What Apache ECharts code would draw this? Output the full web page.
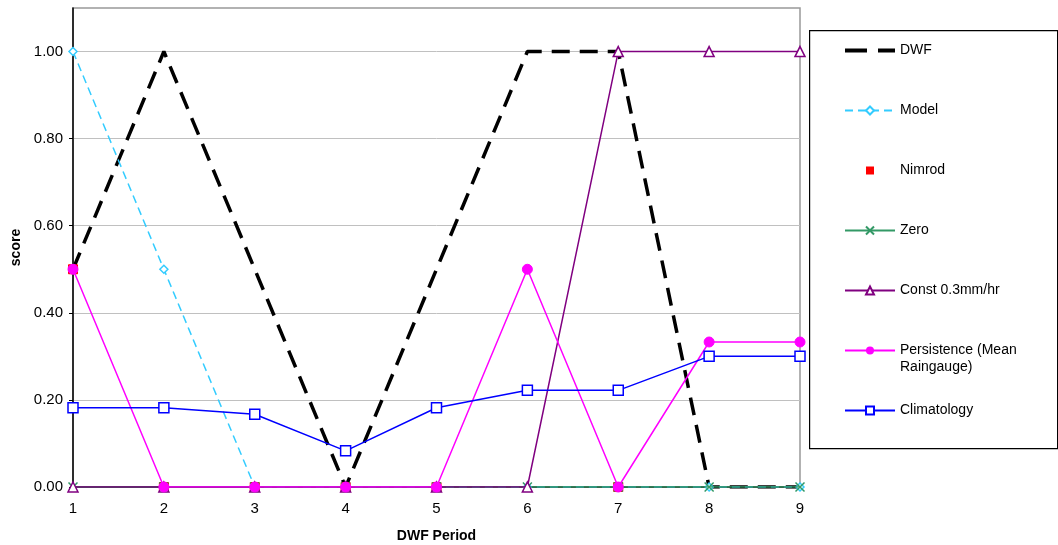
<!DOCTYPE html>
<html>
<head>
<meta charset="utf-8">
<script src="https://cdn.jsdelivr.net/npm/echarts@6/dist/echarts.min.js"></script>
<style>
html,body{margin:0;padding:0;background:#fff;}
#chart{width:1058px;height:545px;}
</style>
</head>
<body>
<div id="chart"></div>
<script>
var periods = ['1','2','3','4','5','6','7','8','9'];
var dwf = [0.5, 1, 0.5, 0, 0.5, 1, 1, 0, 0];
var model = [1, 0.5, 0, 0, 0, 0, 0, 0, 0];
var nimrod = [0.5, 0, 0, 0, 0, null, 0, null, null];
var zero = [0, 0, 0, 0, 0, 0, 0, 0, 0];
var constRate = [0, 0, 0, 0, 0, 0, 1, 1, 1];
var persistence = [0.5, 0, 0, 0, 0, 0.5, 0, 0.333, 0.333];
var climatology = [0.182, 0.182, 0.167, 0.083, 0.182, 0.222, 0.222, 0.3, 0.3];
var yTicks = [0, 0.2, 0.4, 0.6, 0.8, 1.0];
var seriesNames = ['DWF', 'Model', 'Nimrod', 'Zero', 'Const 0.3mm/hr', 'Persistence (Mean\nRaingauge)', 'Climatology'];

var FONT = '"Liberation Sans", Arial, sans-serif';
var xPath = 'path://M0,0L10,10M10,0L0,10';

var chart = echarts.init(document.getElementById('chart'), null, {renderer: 'canvas'});
var legendText = {fontFamily: FONT, fontSize: 14, color: '#000', lineHeight: 17};

chart.setOption({
  animation: false,
  backgroundColor: '#fff',
  grid: {left: 73, right: 258, top: 8, bottom: 58, show: true, borderColor: '#999', borderWidth: 1.5,
    containLabel: false, outerBoundsMode: 'none'},
  graphic: [{
    type: 'rect', left: 809, top: 30, z: -1,
    shape: {width: 248, height: 418},
    style: {fill: '#fff', stroke: '#000', lineWidth: 1.2}
  }, {
    type: 'text', left: 900, top: 360,
    style: {text: seriesNames[5].split('\n')[1], font: '14px ' + FONT, fill: '#000'}
  }],
  legend: {
    orient: 'vertical', left: 843, top: 42, itemWidth: 50, itemHeight: 10, itemGap: 43,
    textStyle: legendText, padding: 0,
    formatter: function (name) { return name.split('\n')[0]; },
    data: [
      {name: seriesNames[0], itemStyle: {opacity: 0}, lineStyle: {type: [22, 11], width: 4, color: '#000'}},
      seriesNames[1], seriesNames[2], seriesNames[3], seriesNames[4], seriesNames[5], seriesNames[6]
    ]
  },
  xAxis: {
    type: 'category', data: periods, boundaryGap: false,
    name: 'DWF Period', nameLocation: 'middle', nameGap: 42,
    nameTextStyle: {fontFamily: FONT, fontSize: 14, fontWeight: 'bold', color: '#000'},
    axisLine: {lineStyle: {color: '#000', width: 1.5}},
    axisTick: {show: false},
    axisLabel: {fontFamily: FONT, fontSize: 15, color: '#000', margin: 14},
    splitLine: {show: false}
  },
  yAxis: {
    type: 'value', min: 0, max: 1.1, interval: 0.2,
    name: 'score', nameLocation: 'middle', nameGap: 47, nameRotate: 90,
    nameTextStyle: {fontFamily: FONT, fontSize: 14, fontWeight: 'bold', color: '#000'},
    axisLine: {show: true, lineStyle: {color: '#000', width: 1.5}},
    axisTick: {show: true, length: 4, lineStyle: {color: '#000'}, customValues: yTicks},
    axisLabel: {
      fontFamily: FONT, fontSize: 15, color: '#000', margin: 10, customValues: yTicks,
      formatter: function (v) { return yTicks.some(function (t) { return Math.abs(t - v) < 1e-6; }) ? v.toFixed(2) : ''; }
    },
    splitLine: {show: true, lineStyle: {color: '#c0c0c0', width: 1}}
  },
  series: [
    {name: seriesNames[0], type: 'line', data: dwf, symbol: 'none', z: 2,
      lineStyle: {color: '#000', width: 3.5, type: [18, 10]}, itemStyle: {color: '#000'}},
    {name: seriesNames[1], type: 'line', data: model, symbol: 'diamond', symbolSize: 8, z: 3,
      lineStyle: {color: '#33ccff', width: 1.5, type: [8, 5]},
      itemStyle: {color: '#fff', borderColor: '#33ccff', borderWidth: 1.5}},
    {name: seriesNames[2], type: 'line', data: nimrod, symbol: 'rect', symbolSize: 9, z: 4,
      lineStyle: {width: 0, opacity: 0},
      itemStyle: {color: '#ff0000', borderColor: '#ff0000'}},
    {name: seriesNames[3], type: 'line', data: zero, symbol: xPath, symbolSize: 9, z: 5,
      lineStyle: {color: '#339966', width: 1.5},
      itemStyle: {color: '#339966', borderColor: '#339966', borderWidth: 1.5}},
    {name: seriesNames[4], type: 'line', data: constRate, symbol: 'triangle', symbolSize: 10, z: 6,
      lineStyle: {color: '#800080', width: 1.5},
      itemStyle: {color: '#fff', borderColor: '#800080', borderWidth: 1.5}},
    {name: seriesNames[5], type: 'line', data: persistence, symbol: 'circle', symbolSize: 10, z: 7,
      lineStyle: {color: '#ff00ff', width: 1.5},
      itemStyle: {color: '#ff00ff', borderColor: '#ff00ff'}},
    {name: seriesNames[6], type: 'line', data: climatology, symbol: 'rect', symbolSize: 10, z: 8,
      lineStyle: {color: '#0000ff', width: 1.5},
      itemStyle: {color: '#fff', borderColor: '#0000ff', borderWidth: 1.5}}
  ]
});
</script>
</body>
</html>
